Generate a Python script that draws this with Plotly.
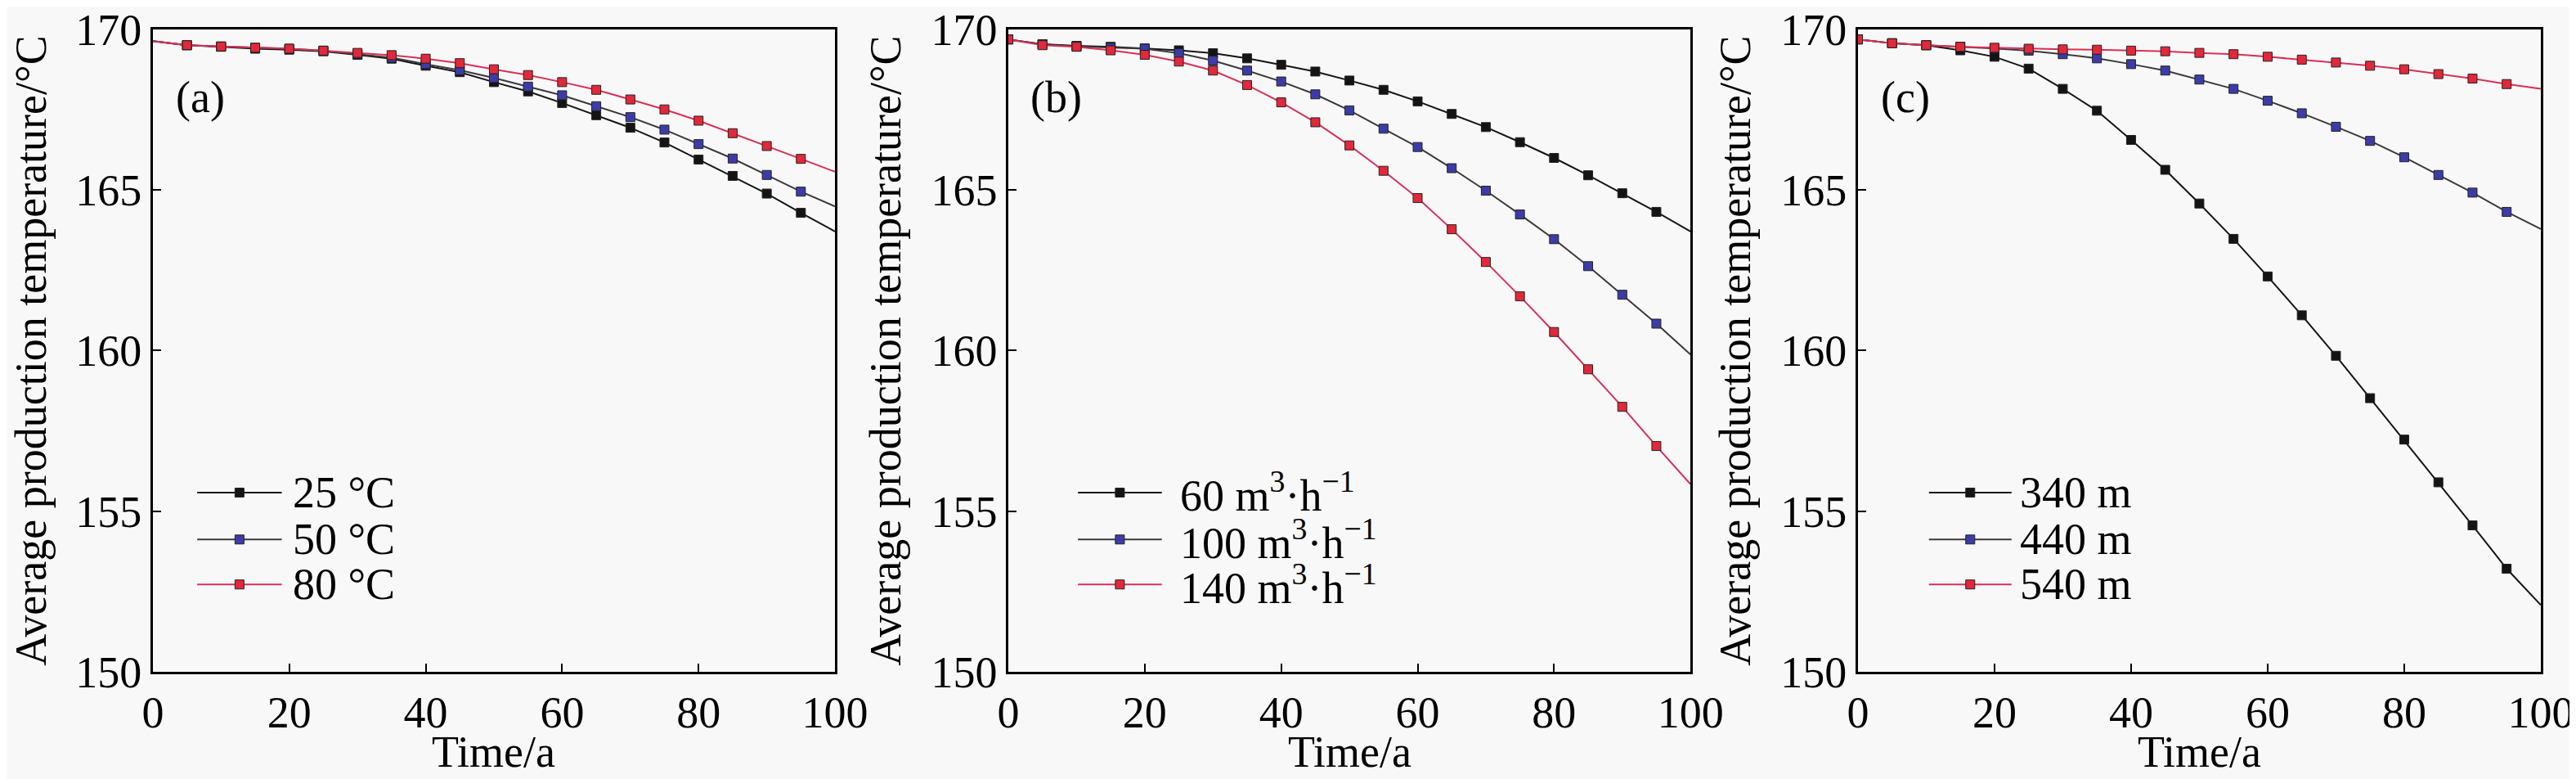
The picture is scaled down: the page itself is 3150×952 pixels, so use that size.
import plotly.graph_objects as go
from plotly.subplots import make_subplots

# Data
years = [0, 5, 10, 15, 20, 25, 30, 35, 40, 45, 50, 55, 60, 65, 70, 75, 80, 85, 90, 95, 100]

# (a) injection temperature
a_names = ["25 °C", "50 °C", "80 °C"]
a_25 = [169.64, 169.51, 169.46, 169.40, 169.37, 169.32, 169.21, 169.09, 168.87, 168.67, 168.36,
        168.07, 167.71, 167.33, 166.94, 166.48, 165.95, 165.44, 164.89, 164.29, 163.71]
a_50 = [169.64, 169.51, 169.47, 169.43, 169.40, 169.34, 169.23, 169.12, 168.92, 168.73, 168.49,
        168.22, 167.95, 167.61, 167.27, 166.88, 166.43, 165.98, 165.47, 164.95, 164.49]
a_80 = [169.64, 169.51, 169.47, 169.43, 169.40, 169.34, 169.27, 169.20, 169.09, 168.95, 168.76,
        168.58, 168.36, 168.12, 167.82, 167.51, 167.16, 166.77, 166.37, 165.97, 165.57]

# (b) flow rate
b_names = ["60 m<sup>3</sup>·h<sup>−1</sup>", "100 m<sup>3</sup>·h<sup>−1</sup>", "140 m<sup>3</sup>·h<sup>−1</sup>"]
b_60 = [169.69, 169.54, 169.49, 169.46, 169.41, 169.35, 169.26, 169.10, 168.90, 168.69, 168.41,
        168.12, 167.76, 167.37, 166.96, 166.49, 166.00, 165.46, 164.90, 164.32, 163.71]
b_100 = [169.69, 169.54, 169.47, 169.43, 169.40, 169.26, 169.03, 168.72, 168.38, 167.98, 167.48,
         166.91, 166.34, 165.68, 164.98, 164.24, 163.47, 162.63, 161.74, 160.84, 159.88]
b_140 = [169.69, 169.51, 169.46, 169.35, 169.21, 169.00, 168.72, 168.27, 167.73, 167.11, 166.39,
         165.60, 164.75, 163.78, 162.76, 161.69, 160.58, 159.42, 158.25, 157.03, 155.84]

# (c) well spacing
c_names = ["340 m", "440 m", "540 m"]
c_340 = [169.69, 169.57, 169.51, 169.35, 169.15, 168.78, 168.15, 167.47, 166.56, 165.63, 164.58,
         163.48, 162.31, 161.10, 159.84, 158.52, 157.23, 155.90, 154.56, 153.21, 152.08]
c_440 = [169.69, 169.57, 169.51, 169.46, 169.41, 169.34, 169.23, 169.10, 168.92, 168.72, 168.44,
         168.15, 167.78, 167.39, 166.97, 166.53, 166.02, 165.47, 164.92, 164.32, 163.79]
c_540 = [169.69, 169.57, 169.51, 169.46, 169.43, 169.40, 169.38, 169.37, 169.34, 169.32, 169.27,
         169.23, 169.15, 169.06, 168.97, 168.87, 168.76, 168.61, 168.47, 168.30, 168.15]

panel_labels = ["(a)", "(b)", "(c)"]
x_title = "Time/a"
y_title = "Average production temperature/°C"

FONT = "Liberation Serif"
BG = "#f8f8f8"
marker_colors = ["#141414", "#3c3ca8", "#e2283a"]
line_colors = ["#141414", "#3a3a3a", "#d83058"]

# names, series, first marker index, legend line x0/x1, legend text x (axis-domain fractions)
panels = [
    (a_names, [a_25, a_50, a_80], 1, 0.065, 0.189, 0.203),
    (b_names, [b_60, b_100, b_140], 0, 0.102, 0.225, 0.249),
    (c_names, [c_340, c_440, c_540], 0, 0.104, 0.225, 0.235),
]
legend_rows = [0.279, 0.206, 0.136]

x_domains = [[0.0568, 0.3216], [0.3889, 0.6537], [0.7187, 0.9838]]
y_domain = [0.146, 0.9706]

fig = make_subplots(rows=1, cols=3)

for col, (names, series, m0, lx0, lx1, tx) in enumerate(panels, start=1):
    xref = "x domain" if col == 1 else f"x{col} domain"
    yref = "y domain" if col == 1 else f"y{col} domain"
    for i, (name, ys) in enumerate(zip(names, series)):
        # full line 0-100
        fig.add_trace(go.Scatter(
            x=years, y=ys, mode="lines",
            line=dict(color=line_colors[i], width=2),
            showlegend=False, hoverinfo="skip"
        ), row=1, col=col)
        # markers every 5 a, none at 100
        fig.add_trace(go.Scatter(
            x=years[m0:-1], y=ys[m0:-1], mode="markers", name=name,
            marker=dict(symbol="square", size=11, color=marker_colors[i],
                        line=dict(color="#222222", width=1)),
            showlegend=False
        ), row=1, col=col)

        # legend entry: long line, square marker, label
        ly = legend_rows[i]
        fig.add_shape(type="line", xref=xref, yref=yref, x0=lx0, x1=lx1, y0=ly, y1=ly,
                      line=dict(color=line_colors[i], width=2))
        mx = (lx0 + lx1) / 2
        fig.add_shape(type="rect", xref=xref, yref=yref,
                      x0=mx - 0.0066, x1=mx + 0.0066, y0=ly - 0.007, y1=ly + 0.007,
                      fillcolor=marker_colors[i], line=dict(color="#222222", width=1))
        fig.add_annotation(text=name, x=tx, y=ly, xref=xref, yref=yref,
                           xanchor="left", yanchor="middle", showarrow=False,
                           font=dict(family=FONT, size=54, color="black"))

    fig.add_annotation(
        text=panel_labels[col - 1], x=0.07, y=0.894, xref=xref, yref=yref,
        xanchor="center", yanchor="middle", showarrow=False,
        font=dict(family=FONT, size=54, color="black")
    )
    # x title placed by hand (automargin off keeps the frame where the reference has it)
    fig.add_annotation(
        text=x_title, x=0.5, y=0.043, xref=xref, yref="paper",
        xanchor="center", yanchor="middle", showarrow=False,
        font=dict(family=FONT, size=54, color="black")
    )

    fig.update_xaxes(
        domain=x_domains[col - 1], range=[0, 100], dtick=20, automargin=False,
        showline=True, linecolor="black", linewidth=2.5, mirror=True,
        ticks="inside", ticklen=10, tickwidth=2, tickcolor="black",
        showgrid=False, zeroline=False, ticklabeloverflow="allow",
        tickfont=dict(family=FONT, size=54, color="black"),
        row=1, col=col
    )
    fig.update_yaxes(
        domain=y_domain, range=[150, 170], dtick=5, automargin=False,
        showline=True, linecolor="black", linewidth=2.5, mirror=True,
        ticks="inside", ticklen=10, tickwidth=2, tickcolor="black",
        showgrid=False, zeroline=False, ticklabeloverflow="allow",
        tickfont=dict(family=FONT, size=54, color="black"),
        title=dict(text=y_title, font=dict(family=FONT, size=54, color="black"), standoff=20),
        row=1, col=col
    )

fig.update_layout(
    width=3150, height=952,
    margin=dict(l=0, r=0, t=0, b=0),
    paper_bgcolor=BG, plot_bgcolor=BG,
    font=dict(family=FONT, size=54, color="black"),
    showlegend=False,
)

fig.write_html("out.html")
